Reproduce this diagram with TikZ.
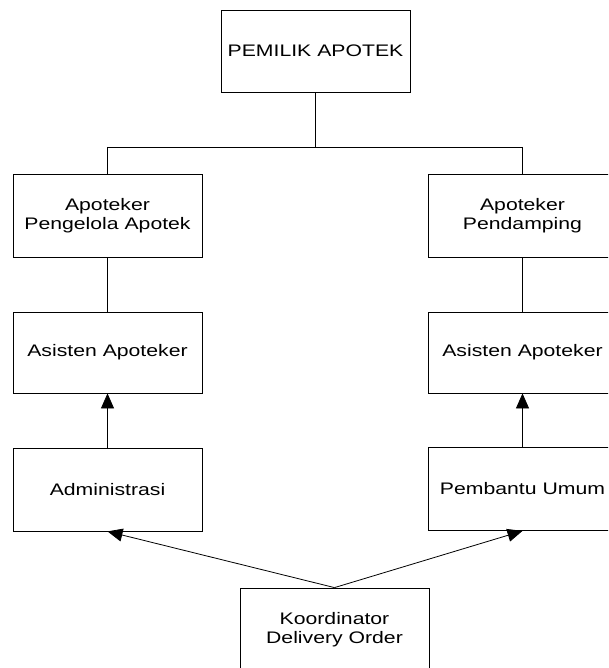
\documentclass[tikz,border=0pt]{standalone}
\usepackage{fontspec}
\setmainfont[FakeStretch=1.27]{Liberation Sans}
\usetikzlibrary{arrows.meta}
\begin{document}
\begin{tikzpicture}[x=1pt,y=-1pt,
  box/.style={draw,line width=0.8pt,rectangle,inner sep=0pt,minimum width=189pt,minimum height=83pt,align=center,font=\fontsize{16.7}{18.5}\selectfont},
  conn/.style={line width=0.8pt},
  arr/.style={line width=0.8pt,-{Triangle[length=15pt,width=13pt]}}]
\useasboundingbox (0,0) rectangle (608,668);
\clip (0,0) rectangle (608,668);
\node[box,minimum height=82pt] (top) at (315.5,51) {PEMILIK APOTEK};
\node[box] (L1) at (107.5,215.5) {Apoteker\\Pengelola Apotek};
\node[box] (R1) at (522.5,215.5) {Apoteker\\Pendamping};
\node[box,minimum height=81pt] (L2) at (107.5,352.5) {Asisten Apoteker};
\node[box,minimum height=81pt] (R2) at (522.5,352.5) {Asisten Apoteker};
\node[box] (L3) at (107.5,489.5) {Administrasi};
\node[box] (R3) at (522.5,489) {Pembantu Umum};
\node[box] (K) at (334.5,629.5) {Koordinator\\Delivery Order};
\coordinate (jT) at (315.5,147);
\coordinate (jL) at (107.5,147);
\coordinate (jR) at (522.5,147);
\draw[conn] (top.south) -- (jT);
\draw[conn] (jL) -- (jR);
\draw[conn] (jL) -- (L1.north);
\draw[conn] (jR) -- (R1.north);
\draw[conn] (L1.south) -- (L2.north);
\draw[conn] (R1.south) -- (R2.north);
\draw[arr] (L3.north) -- (L2.south);
\draw[arr] (R3.north) -- (R2.south);
\draw[arr] (K.north) -- (L3.south);
\draw[arr] (K.north) -- (R3.south);
\end{tikzpicture}
\end{document}
